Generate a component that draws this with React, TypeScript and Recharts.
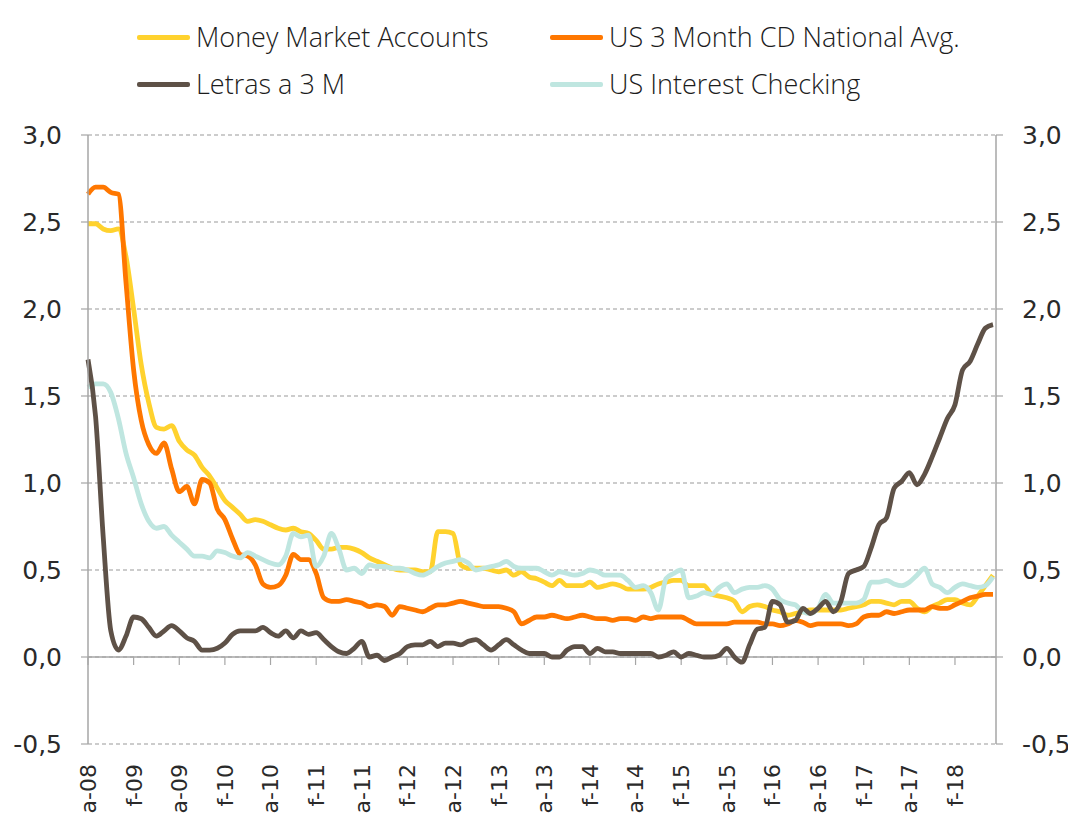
import React from 'react';
import { LineChart, Line, XAxis, YAxis, CartesianGrid, ReferenceLine, Legend } from 'recharts';

const MONTHS_ES = ['ene', 'feb', 'mar', 'abr', 'may', 'jun', 'jul', 'ago', 'sep', 'oct', 'nov', 'dic'];
const START_MONTH = 7; // agosto 2008
const START_YEAR = 8;
const N_MONTHS = 120;
const MONTH_KEYS = Array.from({ length: N_MONTHS }, (_, i) => {
  const t = START_MONTH + i;
  return `${MONTHS_ES[t % 12]}-${String(START_YEAR + Math.floor(t / 12)).padStart(2, '0')}`;
});

const Y_TICKS = [-0.5, 0, 0.5, 1, 1.5, 2, 2.5, 3];

const moneyMarket = [
  2.49, 2.49, 2.46, 2.45, 2.46, 2.30, 2.00, 1.68, 1.46, 1.32,
  1.31, 1.33, 1.24, 1.19, 1.16, 1.09, 1.04, 0.97, 0.90, 0.86,
  0.82, 0.78, 0.79, 0.78, 0.76, 0.74, 0.73, 0.74, 0.72, 0.71,
  0.67, 0.62, 0.62, 0.63, 0.63, 0.62, 0.60, 0.57, 0.55, 0.53,
  0.51, 0.50, 0.50, 0.50, 0.49, 0.49, 0.72, 0.72, 0.71, 0.53,
  0.51, 0.51, 0.51, 0.50, 0.49, 0.50, 0.47, 0.49, 0.46, 0.45,
  0.43, 0.41, 0.44, 0.41, 0.41, 0.41, 0.43, 0.40, 0.41, 0.42,
  0.41, 0.39, 0.39, 0.39, 0.40, 0.42, 0.43, 0.44, 0.44, 0.41,
  0.41, 0.41, 0.36, 0.35, 0.34, 0.32, 0.26, 0.29, 0.30, 0.29,
  0.27, 0.26, 0.24, 0.25, 0.26, 0.27, 0.27, 0.27, 0.27, 0.27,
  0.28, 0.29, 0.30, 0.32, 0.32, 0.31, 0.30, 0.32, 0.32, 0.28,
  0.26, 0.29, 0.31, 0.33, 0.33, 0.31, 0.30, 0.35, 0.41, 0.47,
];

const cd3m = [
  2.66, 2.70, 2.70, 2.67, 2.66, 2.15, 1.65, 1.36, 1.22, 1.17,
  1.23, 1.08, 0.95, 0.98, 0.88, 1.02, 1.00, 0.85, 0.79, 0.68,
  0.59, 0.58, 0.53, 0.42, 0.40, 0.41, 0.47, 0.59, 0.56, 0.56,
  0.48, 0.34, 0.32, 0.32, 0.33, 0.32, 0.31, 0.29, 0.30, 0.29,
  0.24, 0.29, 0.28, 0.27, 0.26, 0.28, 0.30, 0.30, 0.31, 0.32,
  0.31, 0.30, 0.29, 0.29, 0.29, 0.28, 0.26, 0.19, 0.21, 0.23,
  0.23, 0.24, 0.23, 0.22, 0.23, 0.24, 0.23, 0.22, 0.22, 0.21,
  0.22, 0.22, 0.21, 0.23, 0.22, 0.23, 0.23, 0.23, 0.23, 0.21,
  0.19, 0.19, 0.19, 0.19, 0.19, 0.20, 0.20, 0.20, 0.20, 0.19,
  0.19, 0.18, 0.19, 0.21, 0.20, 0.18, 0.19, 0.19, 0.19, 0.19,
  0.18, 0.19, 0.23, 0.24, 0.24, 0.26, 0.25, 0.26, 0.27, 0.27,
  0.27, 0.29, 0.28, 0.28, 0.30, 0.32, 0.34, 0.35, 0.36, 0.36,
];

const letras3m = [
  1.71, 1.38, 0.69, 0.15, 0.04, 0.12, 0.23, 0.22, 0.17, 0.12,
  0.15, 0.18, 0.15, 0.11, 0.09, 0.04, 0.04, 0.05, 0.08, 0.13,
  0.15, 0.15, 0.15, 0.17, 0.14, 0.12, 0.15, 0.11, 0.15, 0.13,
  0.14, 0.10, 0.06, 0.03, 0.02, 0.05, 0.09, 0.00, 0.01, -0.02,
  0.00, 0.02, 0.06, 0.07, 0.07, 0.09, 0.06, 0.08, 0.08, 0.07,
  0.09, 0.10, 0.07, 0.04, 0.07, 0.10, 0.07, 0.04, 0.02, 0.02,
  0.02, 0.00, 0.00, 0.04, 0.06, 0.06, 0.02, 0.05, 0.03, 0.03,
  0.02, 0.02, 0.02, 0.02, 0.02, 0.00, 0.01, 0.03, 0.00, 0.02,
  0.01, 0.00, 0.00, 0.01, 0.05, 0.00, -0.03, 0.07, 0.16, 0.17,
  0.32, 0.30, 0.20, 0.21, 0.28, 0.25, 0.28, 0.32, 0.26, 0.32,
  0.48, 0.50, 0.52, 0.63, 0.76, 0.80, 0.97, 1.01, 1.06, 0.99,
  1.05, 1.15, 1.26, 1.37, 1.45, 1.65, 1.70, 1.80, 1.89, 1.91,
];

const interestChecking = [
  1.55, 1.57, 1.57, 1.52, 1.37, 1.17, 1.03, 0.88, 0.78, 0.74,
  0.75, 0.70, 0.66, 0.62, 0.58, 0.58, 0.57, 0.61, 0.60, 0.58,
  0.57, 0.60, 0.58, 0.56, 0.54, 0.53, 0.58, 0.71, 0.69, 0.70,
  0.52, 0.58, 0.71, 0.62, 0.50, 0.51, 0.48, 0.53, 0.52, 0.52,
  0.51, 0.51, 0.50, 0.48, 0.47, 0.49, 0.52, 0.54, 0.55, 0.56,
  0.54, 0.50, 0.51, 0.52, 0.53, 0.55, 0.52, 0.51, 0.51, 0.51,
  0.49, 0.47, 0.49, 0.48, 0.47, 0.48, 0.50, 0.49, 0.47, 0.47,
  0.47, 0.44, 0.40, 0.41, 0.37, 0.27, 0.45, 0.48, 0.50, 0.34,
  0.35, 0.37, 0.36, 0.40, 0.42, 0.37, 0.39, 0.40, 0.40, 0.41,
  0.39, 0.33, 0.31, 0.30, 0.26, 0.25, 0.28, 0.36, 0.31, 0.31,
  0.31, 0.31, 0.33, 0.43, 0.43, 0.44, 0.42, 0.41, 0.43, 0.47,
  0.51, 0.42, 0.40, 0.37, 0.40, 0.42, 0.41, 0.40, 0.41, 0.46,
];

// Both y axes share the same domain; one series is bound to the right axis so it is drawn with ticks.
const SERIES = [
  { key: 'mm', name: 'Money Market Accounts', color: '#FFD22E', values: moneyMarket, axis: 'left' },
  { key: 'cd', name: 'US 3 Month CD National Avg.', color: '#FF7700', values: cd3m, axis: 'right' },
  { key: 'ic', name: 'US Interest Checking', color: '#BFE6E0', values: interestChecking, axis: 'left' },
  { key: 'lt', name: 'Letras a 3 M', color: '#5E5147', values: letras3m, axis: 'left' },
];

const LEGEND_ORDER = ['mm', 'cd', 'lt', 'ic'];

const data = MONTH_KEYS.map((m, i) => {
  const row: Record<string, any> = { month: m };
  SERIES.forEach((s) => { row[s.key] = s.values[i]; });
  return row;
});

const TICK_KEYS = MONTH_KEYS.filter((_, i) => i % 6 === 0);

const FONT = '"Open Sans", "DejaVu Sans", sans-serif';
const TICK_FONT = '"DejaVu Sans", "Open Sans", sans-serif';
const TEXT_COLOR = '#1c1c1c';
const fmt = (v: number) => v.toFixed(1).replace('.', ',');
const shortMonth = (m: string) => `${m.charAt(0)}${m.slice(3)}`;

const XTick = (props: any) => {
  const { x, y, payload } = props;
  const ty = y + 20;
  return (
    <text x={x} y={ty} transform={`rotate(-90, ${x}, ${ty})`} textAnchor="end" dy="0.36em"
      fontFamily={TICK_FONT} fontSize={22} fontWeight={400} fill="#2a2a2a">
      {shortMonth(payload.value)}
    </text>
  );
};

const LegendContent = () => {
  const items = LEGEND_ORDER.map((k) => SERIES.find((s) => s.key === k)!);
  return (
    <div style={{ position: 'relative', width: 1068, height: 110, fontFamily: FONT }}>
      {items.map((s, i) => {
        const col = i % 2;
        const row = Math.floor(i / 2);
        const left = col === 0 ? 137 : 550;
        const top = row === 0 ? 37 : 84;
        return (
          <div key={s.key} style={{ position: 'absolute', left, top: top - 20, height: 40, display: 'flex', alignItems: 'center', whiteSpace: 'nowrap' }}>
            <div style={{ width: 53, height: 5, background: s.color, borderRadius: 2 }} />
            <span style={{ marginLeft: 6, fontSize: 27, fontWeight: 300, color: TEXT_COLOR, lineHeight: '40px' }}>{s.name}</span>
          </div>
        );
      })}
    </div>
  );
};

export default function App() {
  return (
    <div style={{ position: 'absolute', left: 0, top: 0, width: 1068, height: 816, background: '#fff', overflow: 'hidden' }}>
      <LineChart width={1068} height={816} data={data} margin={{ top: 135, right: 0, bottom: 0, left: 0 }}>
        <Legend verticalAlign="middle" align="center" layout="horizontal"
          wrapperStyle={{ top: 0, left: 0, width: 1068, height: 110 }} content={<LegendContent />} />
        <CartesianGrid yAxisId="left" vertical={false} stroke="#9A9A9A" strokeDasharray="4 3" strokeWidth={1.2} />
        <XAxis dataKey="month" height={72} interval={5} tickLine={false} axisLine={false}
          tickSize={0} tickMargin={0} padding={{ left: 0, right: 3 }} tick={<XTick />} />
        <YAxis yAxisId="left" width={88} domain={[-0.5, 3]} ticks={Y_TICKS} tickFormatter={fmt}
          axisLine={{ stroke: '#A6A6A6', strokeWidth: 1.5 }} tickLine={{ stroke: '#A6A6A6', strokeWidth: 1.2 }}
          tickSize={7} tickMargin={19}
          tick={{ fontFamily: TICK_FONT, fontSize: 25, fontWeight: 400, fill: '#2a2a2a' }} />
        <YAxis yAxisId="right" orientation="right" width={72} domain={[-0.5, 3]} ticks={Y_TICKS} tickFormatter={fmt}
          axisLine={{ stroke: '#A6A6A6', strokeWidth: 1.5 }} tickLine={{ stroke: '#A6A6A6', strokeWidth: 1.2 }}
          tickSize={7} tickMargin={19}
          tick={{ fontFamily: TICK_FONT, fontSize: 25, fontWeight: 400, fill: '#2a2a2a', textAnchor: 'start' }} />
        <ReferenceLine yAxisId="left" y={0} stroke="#A6A6A6" strokeWidth={1.5} />
        {TICK_KEYS.map((k) => (
          <ReferenceLine key={k} yAxisId="left" stroke="#A6A6A6" strokeWidth={1.2}
            segment={[{ x: k, y: 0 }, { x: k, y: -0.046 }]} />
        ))}
        {SERIES.map((s) => (
          <Line key={s.key} yAxisId={s.axis} type="monotone" dataKey={s.key} name={s.name}
            stroke={s.color} strokeWidth={4.8} dot={false} isAnimationActive={false} />
        ))}
      </LineChart>
    </div>
  );
}
